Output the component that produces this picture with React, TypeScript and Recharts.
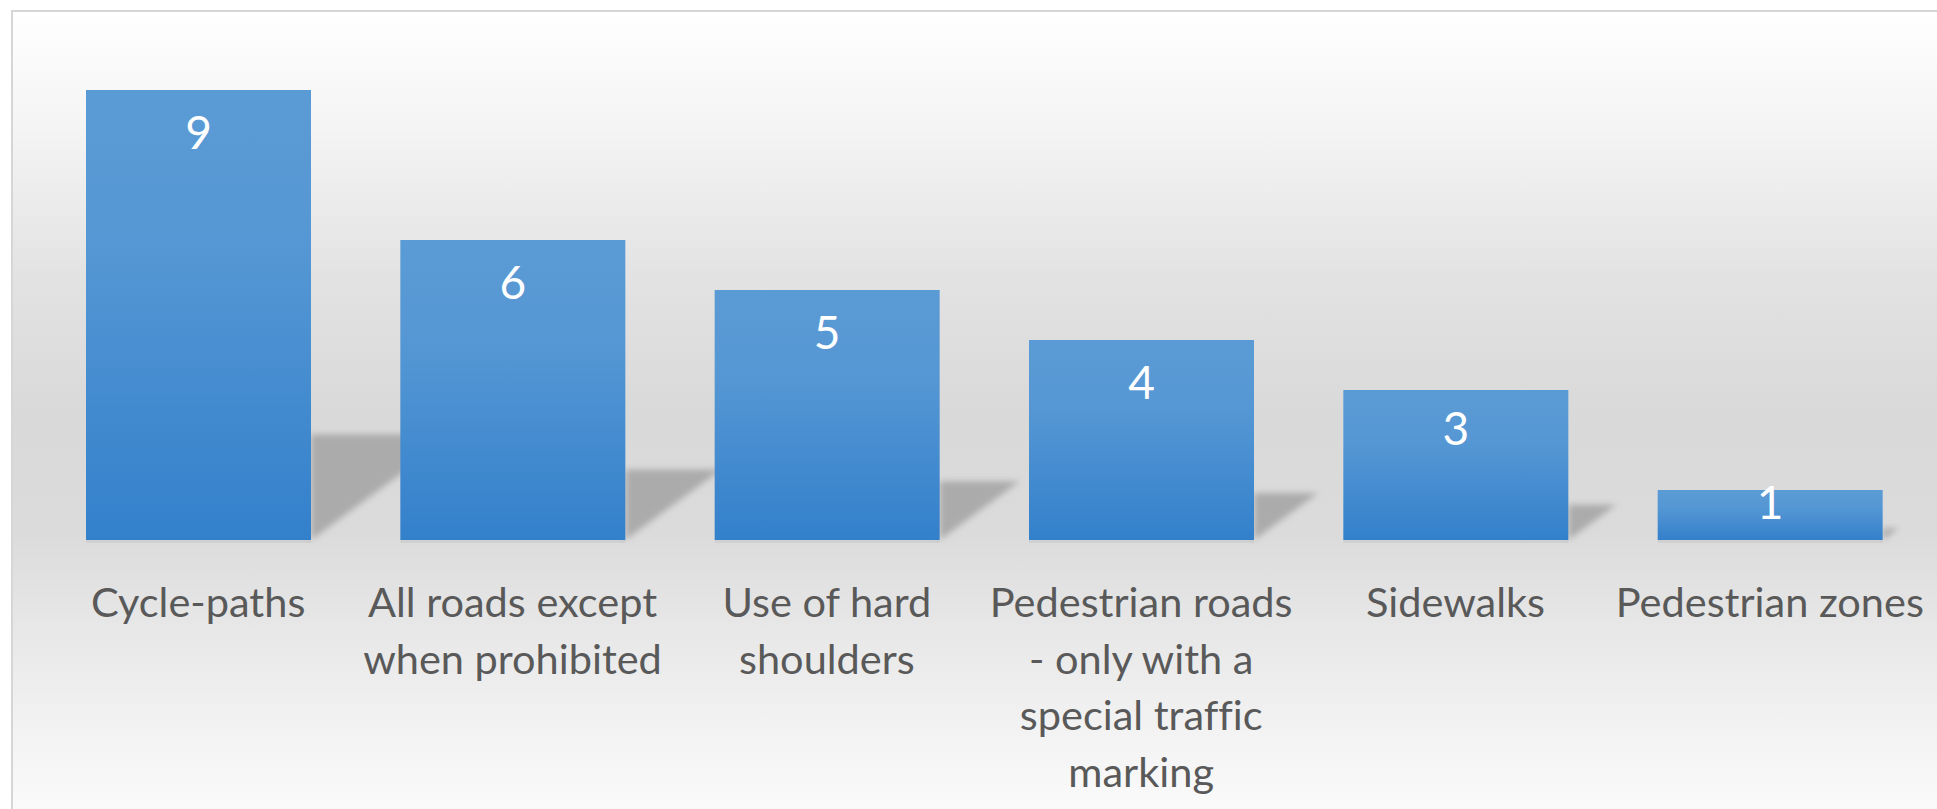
import React from "react";
import { BarChart, Bar, XAxis, YAxis, LabelList } from "recharts";

const categories = [
  "Cycle-paths",
  "All roads except when prohibited",
  "Use of hard shoulders",
  "Pedestrian roads - only with a special traffic marking",
  "Sidewalks",
  "Pedestrian zones",
];
const values = [9, 6, 5, 4, 3, 1];
const tickLines = [
  ["Cycle-paths"],
  ["All roads except", "when prohibited"],
  ["Use of hard", "shoulders"],
  ["Pedestrian roads", "- only with a", "special traffic", "marking"],
  ["Sidewalks"],
  ["Pedestrian zones"],
];

const data = categories.map((name, i) => ({ name, value: values[i] }));

const FONT = "Lato, 'Open Sans', sans-serif";

const ShadowBar = (props: any) => {
  const { x, y, width, height } = props;
  const R = x + width;
  const B = y + height;
  const sh = height * 0.235;
  const sw = height * 0.32;
  return (
    <g>
      <polygon
        points={`${R},${B} ${R},${B - sh} ${R + sw},${B - sh}`}
        fill="#ababab"
        filter="url(#shadowBlur)"
      />
      <rect x={x} y={B} width={width} height={3} fill="#000" opacity={0.05} />
      <rect x={x} y={y} width={width} height={height} fill="url(#barGrad)" />
    </g>
  );
};

const ValueLabel = (props: any) => {
  const { x, y, width, height, value } = props;
  const off = Math.min(43, height * 0.26);
  return (
    <text
      x={x + width / 2}
      y={y + off + 16}
      textAnchor="middle"
      fill="#ffffff"
      fontSize={46}
      fontFamily={FONT}
      style={{ fontVariantLigatures: "none" }}
    >
      {value}
    </text>
  );
};

const CatTick = (props: any) => {
  const { x, y, payload } = props;
  const lines = tickLines[payload.index] || [payload.value];
  return (
    <g>
      {lines.map((ln: string, i: number) => (
        <text
          key={i}
          x={x}
          y={y + 77 + i * 56.5}
          textAnchor="middle"
          fill="#595959"
          fontSize={41.5}
          fontFamily={FONT}
          style={{ fontVariantLigatures: "none" }}
        >
          {ln}
        </text>
      ))}
    </g>
  );
};

export default function App() {
  return (
    <div
      style={{
        position: "fixed",
        left: 0,
        top: 0,
        width: 1937,
        height: 809,
        overflow: "hidden",
        background: "#ffffff",
      }}
    >
      <div
        style={{
          position: "absolute",
          left: 11,
          top: 10,
          width: 1960,
          height: 840,
          borderLeft: "2px solid #d6d6d6",
          borderTop: "2px solid #d6d6d6",
          background:
            "linear-gradient(to bottom, #ffffff 0%, #f4f4f4 14%, #e2e2e2 32%, #d9d9d9 48%, #dbdbdb 62%, #e6e6e6 72%, #f3f3f3 86%, #fafafa 95%)",
        }}
      />
      <div style={{ position: "absolute", left: 0, top: 0 }}>
        <BarChart
          width={1937}
          height={809}
          data={data}
          margin={{ top: 90, right: 10, bottom: 0, left: 41 }}
        >
          <defs>
            <linearGradient id="barGrad" x1="0" y1="0" x2="0" y2="1">
              <stop offset="0%" stopColor="#5b9bd5" />
              <stop offset="35%" stopColor="#5597d4" />
              <stop offset="100%" stopColor="#3380cb" />
            </linearGradient>
            <filter id="shadowBlur" x="-20%" y="-40%" width="140%" height="180%">
              <feGaussianBlur stdDeviation="3" />
            </filter>
          </defs>
          <XAxis
            dataKey="name"
            axisLine={false}
            tickLine={false}
            tickSize={0}
            tickMargin={0}
            height={269}
            interval={0}
            tick={<CatTick />}
          />
          <YAxis hide domain={[0, 9]} />
          <Bar
            dataKey="value"
            barSize={225}
            isAnimationActive={false}
            shape={<ShadowBar />}
          >
            <LabelList dataKey="value" content={<ValueLabel />} />
          </Bar>
        </BarChart>
      </div>
    </div>
  );
}
